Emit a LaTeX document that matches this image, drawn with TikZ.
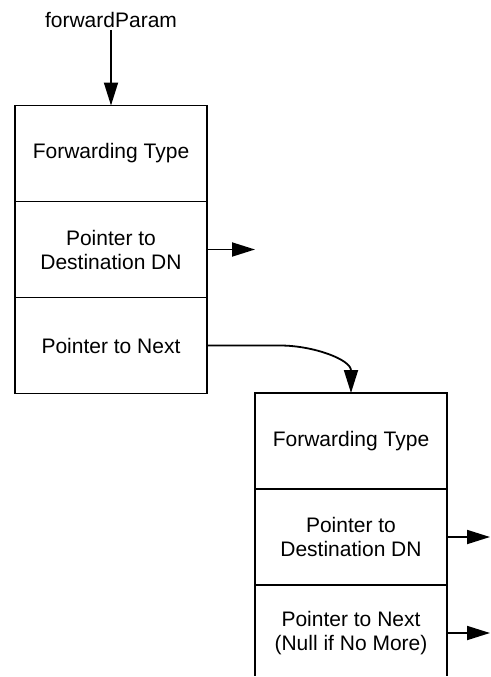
\documentclass[tikz,border=0pt]{standalone}
\usepackage{fontspec}
\setmainfont{Liberation Sans}
\usepackage{tikz}
\usetikzlibrary{arrows.meta, positioning}

\begin{document}
\begin{tikzpicture}[
      x=1pt, y=-1pt,
      % Styles
      cell/.style={
        rectangle, draw, line width=1.8pt,
        minimum width=192pt, minimum height=96pt,
        inner sep=0pt, outer sep=0pt,
        align=center, font=\fontsize{21}{24}\selectfont
      },
      param/.style={
        font=\fontsize{21}{24}\selectfont, inner sep=2pt
      },
      ptr_arrow/.style={
        -{Triangle[length=23pt,width=14pt]}, line width=1.8pt
      }
    ]

    \useasboundingbox (0,0) rectangle (490,677);
    \clip (0,0) rectangle (490,675);

    % --- 1. NODES ---

    % Entry point
    \node[param] (fwdparam) at (111,20) {forwardParam};

    % First record
    \node[cell] (typeA) at (111,153.5) {Forwarding Type};
    \node[cell, below=0pt of typeA] (destA) {Pointer to\\Destination DN};
    \node[cell, below=0pt of destA] (nextA) {Pointer to Next};

    % Second record (cut off at the bottom)
    \node[cell] (typeB) at (351,441) {Forwarding Type};
    \node[cell, below=0pt of typeB] (destB) {Pointer to\\Destination DN};
    \node[cell, below=0pt of destB] (nextB) {Pointer to Next\\(Null if No More)};

    % Free ends of the pointers
    \coordinate[right=48pt of destA.east] (destAend);
    \coordinate[right=43pt of destB.east] (destBend);
    \coordinate[right=43pt of nextB.east] (nextBend);

    % --- 2. EDGES ---

    \draw[ptr_arrow] (fwdparam.south) -- (typeA.north);
    \draw[ptr_arrow] (destA.east) -- (destAend);

    % Link to the next record
    \draw[ptr_arrow] (nextA.east) -- ++(73,0) to[out=0, in=90] (typeB.north);

    \draw[ptr_arrow] (destB.east) -- (destBend);
    \draw[ptr_arrow] (nextB.east) -- (nextBend);

    \end{tikzpicture}
\end{document}
